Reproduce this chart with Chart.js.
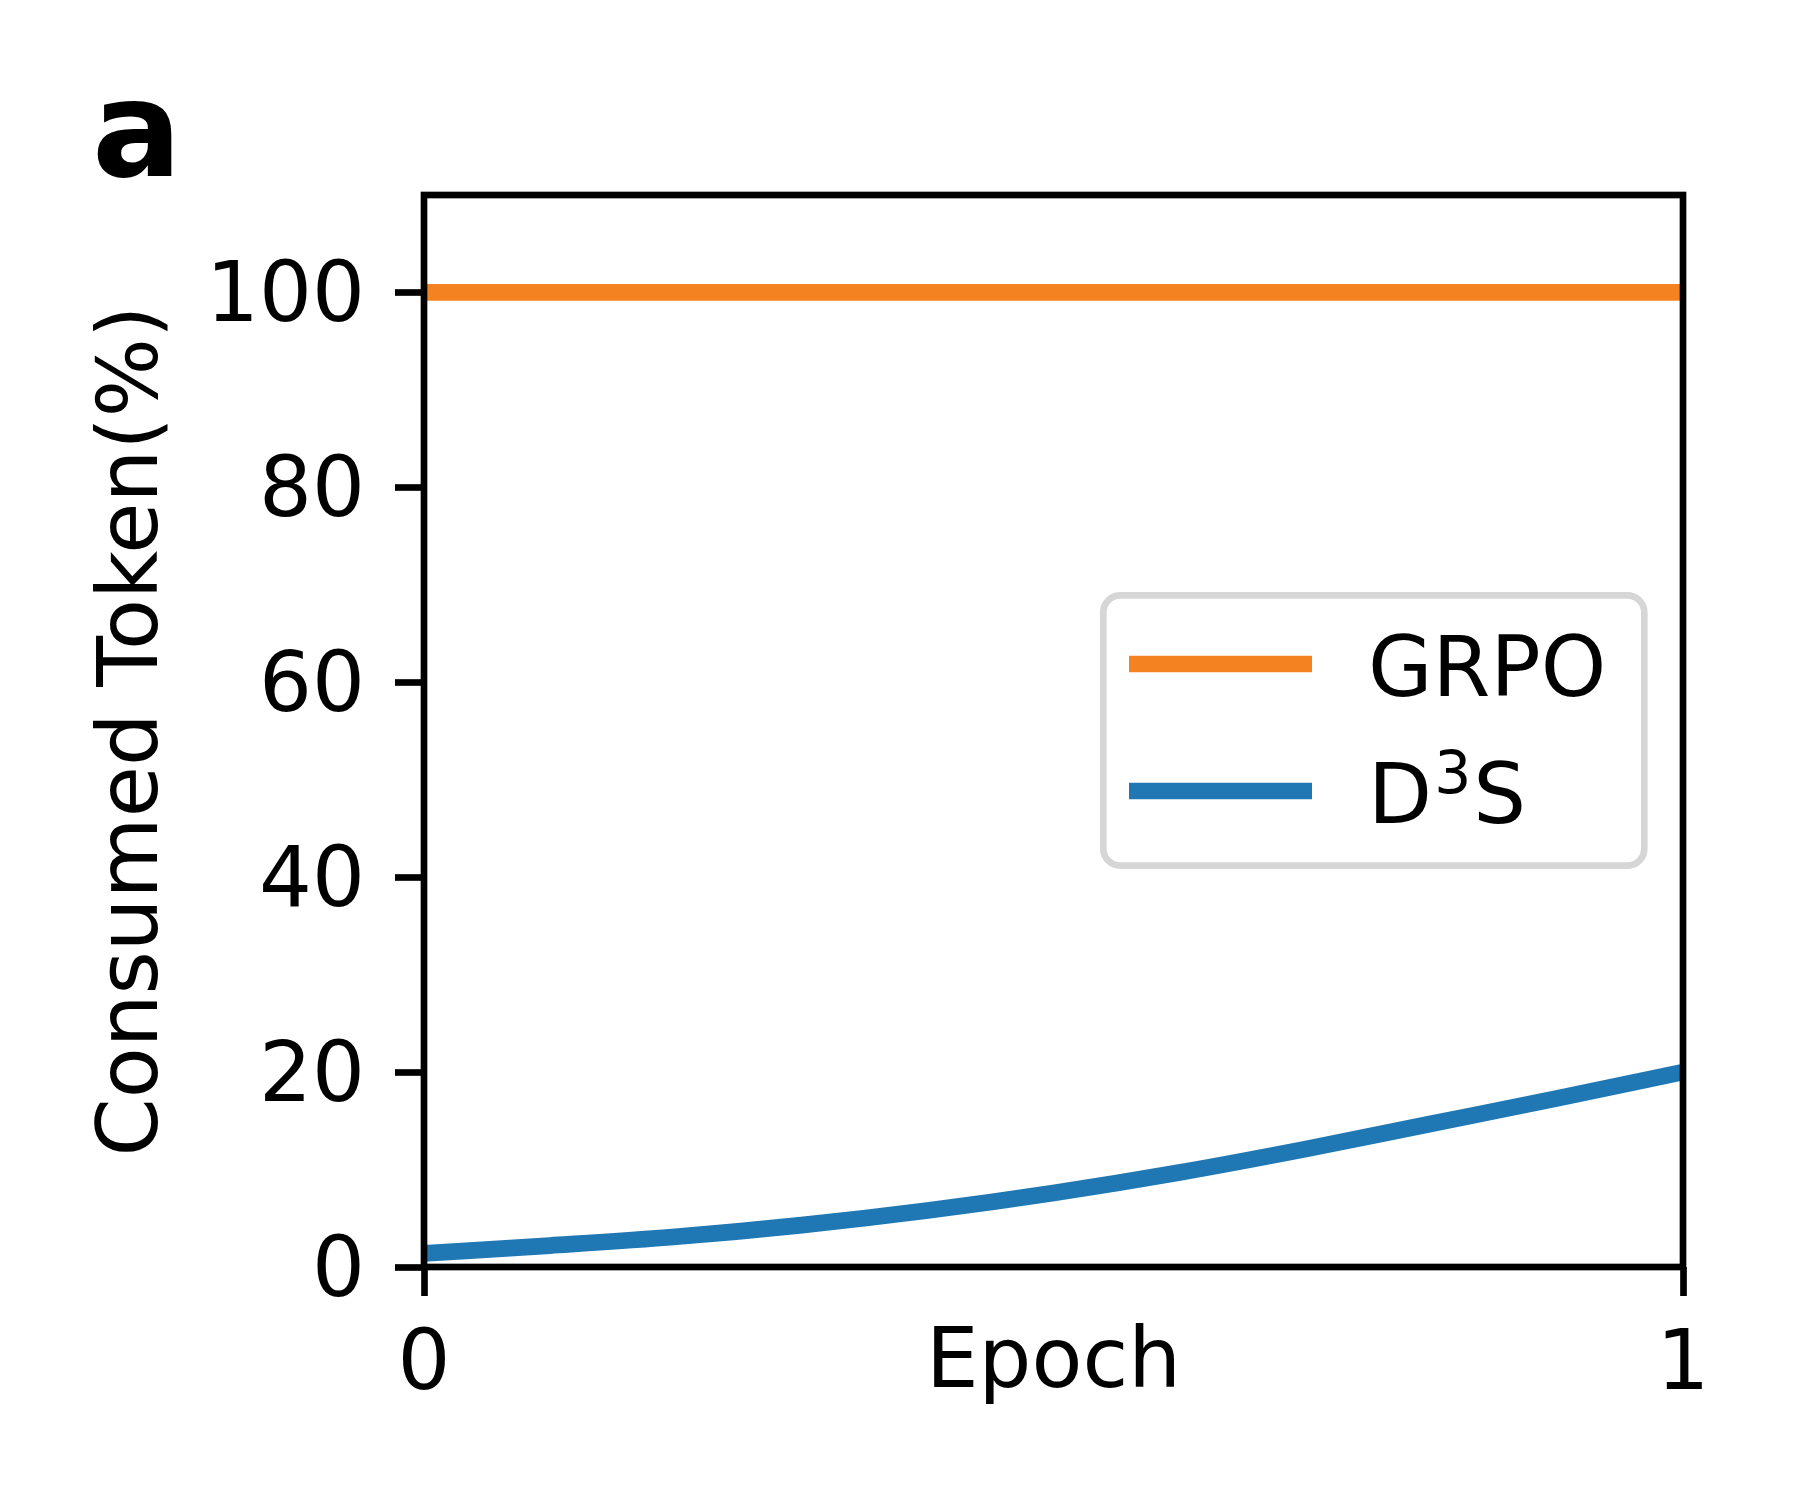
<!DOCTYPE html>
<html>
<head>
<meta charset="utf-8">
<script src="https://cdn.jsdelivr.net/npm/chart.js@4/dist/chart.umd.min.js"></script>
<style>
  html, body { margin: 0; padding: 0; background: #ffffff; overflow: hidden; }
  #wrap { width: 1800px; height: 1500px; }
</style>
</head>
<body>
<div id="wrap"><canvas id="c" width="1800" height="1500"></canvas></div>
<script>
// ---- data ----
const panelLabel = "a";
const seriesNames = ["GRPO", "D³S"];
const grpoEpochs = [0, 1];
const grpoValues = [100, 100];
const d3sEpochs = [0, 0.1, 0.2, 0.3, 0.4, 0.5, 0.6, 0.7, 0.8, 0.9, 1.0];
const d3sValues = [1.4, 2.2, 3.1, 4.3, 5.8, 7.6, 9.7, 12.1, 14.7, 17.3, 20.0];
const xTicks = [0, 1];
const yTicks = [0, 20, 40, 60, 80, 100];
const xTitle = "Epoch";
const yTitle = "Consumed Token(%)";
const colors = ["#f58220", "#1f77b4"];

const FONT = "DejaVu Sans";
const FS = 83.3;
const LW_AX = 6.67;

Chart.defaults.font.family = FONT;
Chart.defaults.color = "#000000";

const toXY = (xs, ys) => xs.map((x, i) => ({ x: x, y: ys[i] }));

// draw a label; a digit right after a letter in "X³Y" form is drawn as a superscript
function drawLegendText(ctx, text, x, y) {
  const sup = { "¹": "1", "²": "2", "³": "3" };
  let cx = x;
  for (const ch of text) {
    if (sup[ch]) {
      ctx.font = (FS * 0.7) + "px '" + FONT + "'";
      ctx.fillText(sup[ch], cx + 2, y - FS * 0.36);
      cx += ctx.measureText(sup[ch]).width + 4;
    } else {
      ctx.font = FS + "px '" + FONT + "'";
      ctx.fillText(ch, cx, y);
      cx += ctx.measureText(ch).width;
    }
  }
}

const framePlugin = {
  id: "frame",
  afterDatasetsDraw(chart) {
    const ctx = chart.ctx;
    const a = chart.chartArea;
    ctx.save();
    // spines
    ctx.strokeStyle = "#000000";
    ctx.lineWidth = LW_AX;
    ctx.lineJoin = "miter";
    ctx.strokeRect(a.left, a.top, a.right - a.left, a.bottom - a.top);

    // legend
    const bx = 1103.3, by = 595.3, bw = 541, bh = 270.4, r = 17;
    ctx.beginPath();
    ctx.moveTo(bx + r, by);
    ctx.lineTo(bx + bw - r, by);
    ctx.arcTo(bx + bw, by, bx + bw, by + r, r);
    ctx.lineTo(bx + bw, by + bh - r);
    ctx.arcTo(bx + bw, by + bh, bx + bw - r, by + bh, r);
    ctx.lineTo(bx + r, by + bh);
    ctx.arcTo(bx, by + bh, bx, by + bh - r, r);
    ctx.lineTo(bx, by + r);
    ctx.arcTo(bx, by, bx + r, by, r);
    ctx.closePath();
    ctx.fillStyle = "#ffffff";
    ctx.fill();
    ctx.strokeStyle = "#d6d6d6";
    ctx.lineWidth = LW_AX;
    ctx.stroke();

    const rowsY = [664, 791];
    chart.data.datasets.forEach((ds, i) => {
      const y = rowsY[i];
      ctx.beginPath();
      ctx.strokeStyle = ds.borderColor;
      ctx.lineWidth = ds.borderWidth;
      ctx.lineCap = "butt";
      ctx.moveTo(1129, y);
      ctx.lineTo(1312, y);
      ctx.stroke();
      ctx.fillStyle = "#000000";
      ctx.textAlign = "left";
      ctx.textBaseline = "alphabetic";
      drawLegendText(ctx, ds.label, 1368, y + 32);
    });

    // panel label
    ctx.font = "bold 133px '" + FONT + "'";
    ctx.fillStyle = "#000000";
    ctx.textAlign = "left";
    ctx.textBaseline = "alphabetic";
    ctx.fillText(panelLabel, 92, 176);
    ctx.restore();
  }
};

new Chart(document.getElementById("c"), {
  type: "line",
  data: {
    datasets: [
      {
        label: seriesNames[0],
        data: toXY(grpoEpochs, grpoValues),
        borderColor: colors[0],
        backgroundColor: colors[0],
        borderWidth: 16.7,
        pointRadius: 0,
        tension: 0,
        borderCapStyle: "butt"
      },
      {
        label: seriesNames[1],
        data: toXY(d3sEpochs, d3sValues),
        borderColor: colors[1],
        backgroundColor: colors[1],
        borderWidth: 16.7,
        pointRadius: 0,
        cubicInterpolationMode: "monotone",
        borderCapStyle: "butt"
      }
    ]
  },
  options: {
    responsive: false,
    maintainAspectRatio: false,
    devicePixelRatio: 1,
    animation: false,
    events: [],
    layout: { padding: { left: 0, top: 195, right: 117, bottom: 0 } },
    plugins: {
      legend: { display: false },
      title: { display: false },
      tooltip: { enabled: false }
    },
    scales: {
      x: {
        type: "linear",
        min: 0,
        max: 1,
        afterBuildTicks(s) { s.ticks = xTicks.map(v => ({ value: v })); },
        afterFit(s) { s.height = 233; },
        border: { display: false },
        grid: {
          display: true,
          drawOnChartArea: false,
          drawTicks: true,
          tickLength: 29,
          tickWidth: LW_AX,
          tickColor: "#000000"
        },
        ticks: {
          font: { size: FS },
          color: "#000000",
          padding: 21,
          maxRotation: 0,
          autoSkip: false
        },
        title: {
          display: true,
          text: xTitle,
          font: { size: FS },
          color: "#000000",
          padding: { top: 0, bottom: 85 }
        }
      },
      y: {
        type: "linear",
        min: 0,
        max: 110,
        afterBuildTicks(s) { s.ticks = yTicks.map(v => ({ value: v })); },
        afterFit(s) { s.width = 424; },
        border: { display: false },
        grid: {
          display: true,
          drawOnChartArea: false,
          drawTicks: true,
          tickLength: 29,
          tickWidth: LW_AX,
          tickColor: "#000000"
        },
        ticks: {
          font: { size: FS, lineHeight: "14px" },
          color: "#000000",
          padding: 30,
          autoSkip: false,
          callback: (v) => ["", String(v)]
        },
        title: {
          display: true,
          text: yTitle,
          font: { size: FS },
          color: "#000000",
          padding: { top: 85, bottom: 0 }
        }
      }
    }
  },
  plugins: [framePlugin]
});
</script>
</body>
</html>
